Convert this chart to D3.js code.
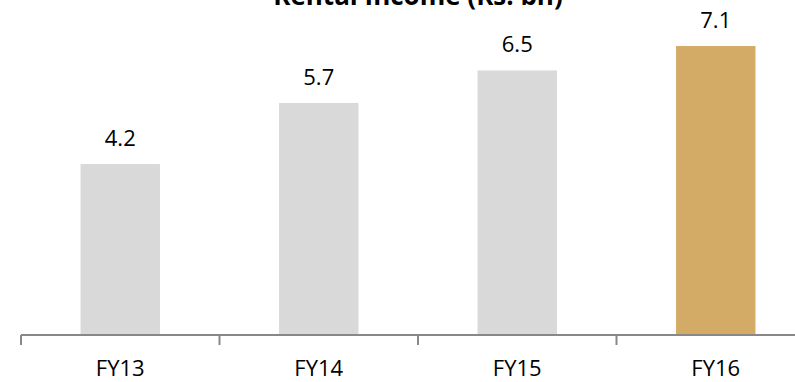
<!DOCTYPE html>
<html>
<head>
<meta charset="utf-8">
<script src="https://cdn.jsdelivr.net/npm/d3@7"></script>
<style>
  html, body { margin: 0; padding: 0; background: #fff; }
  svg { display: block; }
  text { font-family: "Open Sans", sans-serif; }
</style>
</head>
<body>
<script>
// Rental income by fiscal year (Rs. bn)
const categories = ["FY13", "FY14", "FY15", "FY16"];
const values = [4.2, 5.7, 6.5, 7.1];
const barColors = ["#d9d9d9", "#d9d9d9", "#d9d9d9", "#d4aa67"];
const title = "Rental Income (Rs. bn)";

const W = 795, H = 382;
const plot = { left: 21, right: 815, baseline: 335 };

const svg = d3.select("body").append("svg")
  .attr("width", W).attr("height", H);

const x = d3.scaleBand()
  .domain(categories)
  .range([plot.left, plot.right])
  .paddingInner(0.6)
  .paddingOuter(0.3);

const y = d3.scaleLinear()
  .domain([0, 1])
  .range([plot.baseline, plot.baseline - 40.7]);

// bars
svg.append("g").selectAll("rect")
  .data(values)
  .join("rect")
  .attr("x", (d, i) => x(categories[i]))
  .attr("width", x.bandwidth())
  .attr("y", d => y(d))
  .attr("height", d => y(0) - y(d))
  .attr("fill", (d, i) => barColors[i]);

// value labels
svg.append("g").selectAll("text")
  .data(values)
  .join("text")
  .attr("x", (d, i) => x(categories[i]) + x.bandwidth() / 2)
  .attr("y", d => y(d) - 18)
  .attr("text-anchor", "middle")
  .attr("font-size", 22)
  .attr("fill", "#000")
  .text(d => d.toFixed(1));

// category axis with ticks on the band edges
const axisG = svg.append("g");
axisG.append("line")
  .attr("x1", plot.left).attr("x2", plot.right)
  .attr("y1", plot.baseline).attr("y2", plot.baseline)
  .attr("stroke", "#888").attr("stroke-width", 2);

const edges = d3.range(categories.length + 1)
  .map(i => plot.left + i * (plot.right - plot.left) / categories.length);
axisG.selectAll("line.tick")
  .data(edges)
  .join("line")
  .attr("class", "tick")
  .attr("x1", d => d).attr("x2", d => d)
  .attr("y1", plot.baseline).attr("y2", plot.baseline + 10)
  .attr("stroke", "#888").attr("stroke-width", 2);

axisG.selectAll("text")
  .data(categories)
  .join("text")
  .attr("x", d => x(d) + x.bandwidth() / 2)
  .attr("y", 376)
  .attr("text-anchor", "middle")
  .attr("font-size", 22)
  .attr("fill", "#000")
  .text(d => d);

// title
svg.append("text")
  .attr("x", (plot.left + plot.right) / 2)
  .attr("y", 5)
  .attr("text-anchor", "middle")
  .attr("font-size", 26)
  .attr("font-weight", "bold")
  .attr("fill", "#000")
  .text(title);
</script>
</body>
</html>
